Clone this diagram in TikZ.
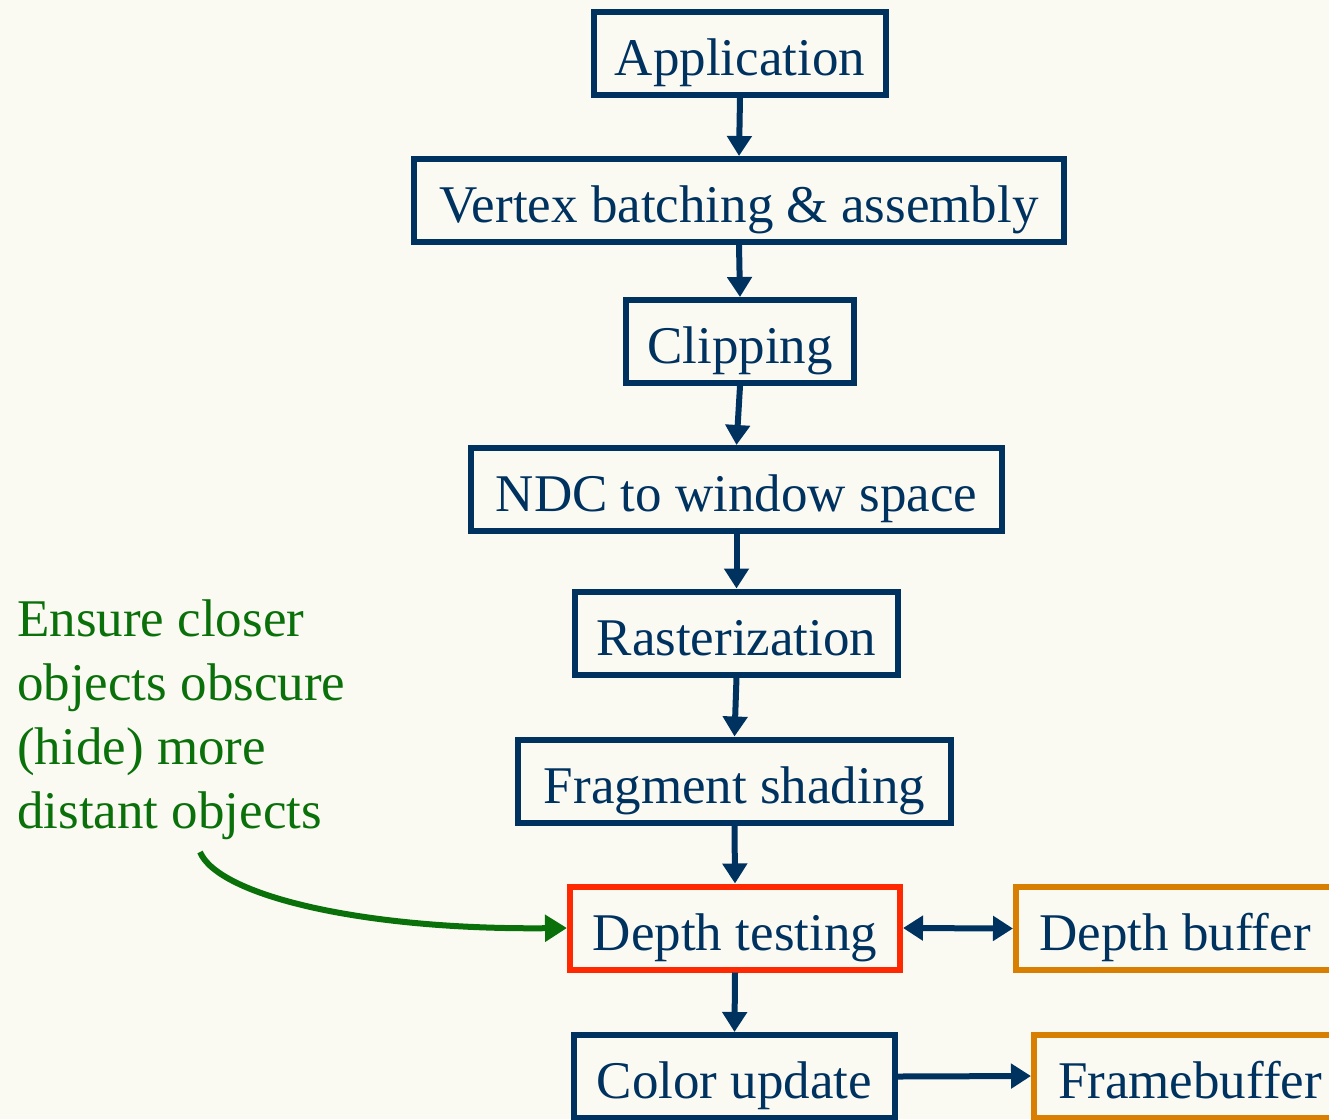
\documentclass[tikz,border=0pt]{standalone}
\usepackage{fontspec}
\setmainfont{Liberation Serif}
\usetikzlibrary{arrows.meta}
\definecolor{bgpaper}{RGB}{250,250,243}
\definecolor{navy}{RGB}{0,50,96}
\definecolor{hotred}{RGB}{255,40,0}
\definecolor{amber}{RGB}{216,126,0}
\definecolor{leaf}{RGB}{10,112,10}
\tikzset{
  stage/.style={draw=navy, line width=6pt, text=navy, inner xsep=0pt, inner ysep=0pt,
    minimum height=83pt, text height=52pt, text depth=8pt,
    font=\fontsize{53}{64}\selectfont},
  keystage/.style={stage, draw=hotred},
  store/.style={stage, draw=amber},
  flow/.style={draw=navy, line width=6pt, -{Triangle[length=20pt,width=24pt]}},
  twoway/.style={draw=navy, line width=6pt, {Triangle[length=20pt,width=24pt]}-{Triangle[length=20pt,width=24pt]}},
  note/.style={text=leaf, align=left, inner sep=0pt, font=\fontsize{53}{64}\selectfont},
  pointer/.style={draw=leaf, line width=6pt, -{Triangle[length=22pt,width=26pt]}}
}
\begin{document}
\begin{tikzpicture}[x=1pt, y=-1pt]
  \useasboundingbox (0,0) rectangle (1329,1119);
  \fill[bgpaper] (0,0) rectangle (1329,1119);
  \clip (0,0) rectangle (1329,1119);

  % rendering pipeline stages
  \node[stage, minimum width=292pt] (app)   at (740,53)     {Application};
  \node[stage, minimum width=650pt] (vert)  at (739,200.5)  {Vertex batching \& assembly};
  \node[stage, minimum width=228pt] (clip)  at (740,341.5)  {Clipping};
  \node[stage, minimum width=531pt] (ndc)   at (736.5,489.5){NDC to window space};
  \node[stage, minimum width=323pt] (rast)  at (736.5,633)  {Rasterization};
  \node[stage, minimum width=433pt] (frag)  at (734.5,781)  {Fragment shading};
  \node[keystage, minimum width=330pt] (depth) at (735,928) {Depth testing};
  \node[stage, minimum width=321pt] (color) at (734.5,1076.5) {Color update};

  % memory targets
  \node[store, minimum width=318pt] (zbuf) at (1175,928.5) {Depth buffer};
  \node[store, minimum width=312pt] (fbuf) at (1190,1076) {Framebuffer};

  % pipeline flow
  \draw[flow] (app.south)   -- (vert.north);
  \draw[flow] (vert.south)  -- (clip.north);
  \draw[flow] (clip.south)  -- (ndc.north);
  \draw[flow] (ndc.south)   -- (rast.north);
  \draw[flow] (rast.south)  -- (frag.north);
  \draw[flow] (frag.south)  -- (depth.north);
  \draw[flow] (depth.south) -- (color.north);
  \draw[twoway] (depth.east) -- (zbuf.west);
  \draw[flow] (color.east)  -- (fbuf.west);

  % annotation
  \node[note, anchor=north west] (why) at (17,600)
    {Ensure closer\\objects obscure\\(hide) more\\distant objects};
  \coordinate (tail) at (200,852);
  \draw[pointer] (tail) .. controls (218,895) and (360,930) .. (depth.west);
\end{tikzpicture}
\end{document}
